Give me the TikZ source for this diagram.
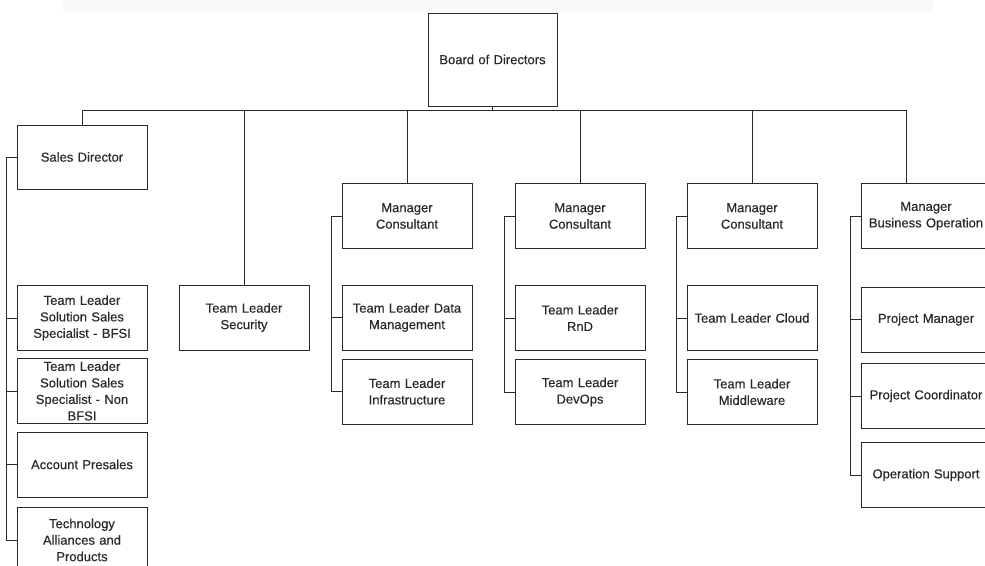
\documentclass[tikz,border=0pt]{standalone}
\usepackage{fontspec}
\setmainfont[FakeBold=0.35]{Liberation Sans}
\definecolor{linegray}{rgb}{0.16, 0.16, 0.16}
\definecolor{bandgray}{rgb}{0.97, 0.975, 0.98}

\begin{document}
\begin{tikzpicture}[x=1pt, y=-1pt,
        unit/.style={draw=linegray, fill=white, minimum width=130pt, minimum height=65pt,
                     text width=124pt, align=center, inner sep=0pt, text=linegray,
                     font=\fontsize{13}{16.5}\selectfont},
        link/.style={draw=linegray, line width=0.9pt}]
        \def \busdrop {4};
        \def \spine {10};

        \useasboundingbox (0,0) rectangle (985,565);
        \clip (0,0) rectangle (985,565);

        % faint band along the top edge
        \fill[bandgray] (63,0) rectangle (933,13);

        % top of the chart
        \node[unit, minimum width=129pt, minimum height=93pt] (board) at (492.5,59.5) {Board of Directors};

        % second level
        \node[unit, minimum height=64pt] (sales) at (82,157) {Sales Director};
        \node[unit] (security) at (244,317.5) {Team Leader\\Security};
        \node[unit] (consultA) at (407,216) {Manager\\Consultant};
        \node[unit] (consultB) at (580,216) {Manager\\Consultant};
        \node[unit] (consultC) at (752,216) {Manager\\Consultant};
        \node[unit] (busops) at (926,216) {Manager\\Business Operation};

        % sales team
        \node[unit] (bfsi) at (82,318) {Team Leader\\Solution Sales\\Specialist - BFSI};
        \node[unit] (nonbfsi) at (82,391) {Team Leader\\Solution Sales\\Specialist - Non\\BFSI};
        \node[unit] (presales) at (82,464.5) {Account Presales};
        \node[unit] (alliances) at (82,540) {Technology\\Alliances and\\Products};

        % consultant teams
        \node[unit] (datamgmt) at (407,317.5) {Team Leader Data\\Management};
        \node[unit] (infra) at (407,391.5) {Team Leader\\Infrastructure};
        \node[unit] (rnd) at (580,318) {Team Leader\\RnD};
        \node[unit] (devops) at (580,392) {Team Leader\\DevOps};
        \node[unit] (cloud) at (752,318) {Team Leader Cloud};
        \node[unit] (middleware) at (752,392) {Team Leader\\Middleware};

        % business operation team
        \node[unit] (projmgr) at (926,319.5) {Project Manager};
        \node[unit] (projcoord) at (926,396) {Project Coordinator};
        \node[unit] (opsupport) at (926,475) {Operation Support};

        % bus from the board to each unit below it
        \coordinate (busopsin) at ([xshift=-20pt]busops.north);
        \foreach \head in {sales, security, consultA, consultB, consultC} {
            \draw[link] (board.south) -- ++(0,\busdrop) -| (\head.north);
        }
        \draw[link] (board.south) -- ++(0,\busdrop) -| (busopsin);

        % side spines from each head to its team
        \foreach \head/\member in {sales/bfsi, sales/nonbfsi, sales/presales, sales/alliances,
                                   consultA/datamgmt, consultA/infra,
                                   consultB/rnd, consultB/devops,
                                   consultC/cloud, consultC/middleware,
                                   busops/projmgr, busops/projcoord, busops/opsupport} {
            \draw[link] (\head.west) -- ++(-\spine,0) |- (\member.west);
        }
    \end{tikzpicture}
\end{document}
